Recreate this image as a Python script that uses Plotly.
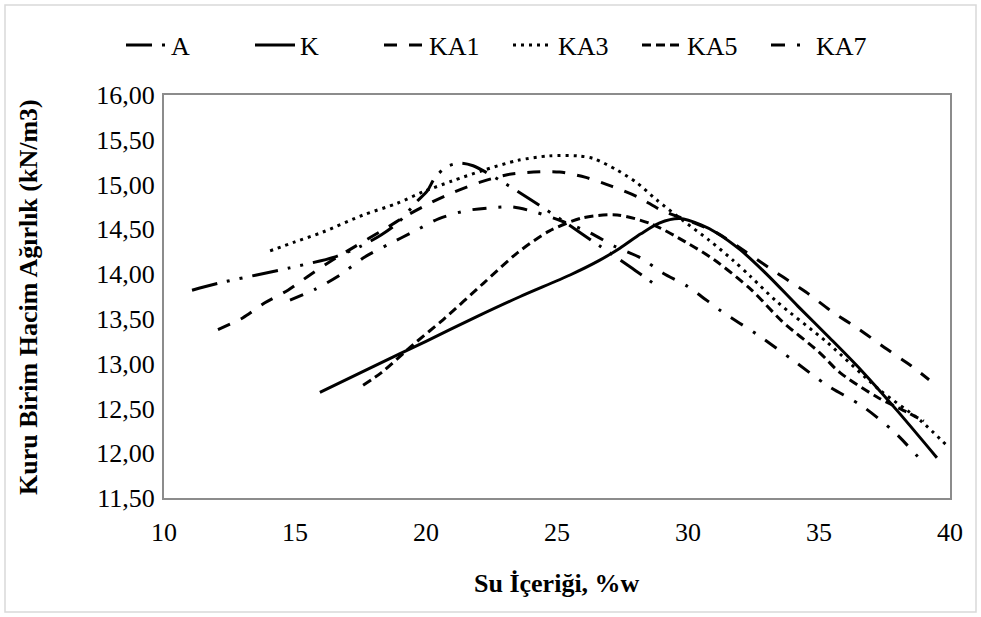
import plotly.graph_objects as go

# ---- data ----
A_x = [11.07, 12.1, 14.8, 16.5, 17.5, 18.3, 18.95, 19.65, 20.05, 20.35, 20.8, 21.3, 21.8, 22.8, 24.0, 25.2, 26.6, 27.8, 28.85]
A_y = [13.82, 13.90, 14.07, 14.19, 14.31, 14.44, 14.58, 14.81, 14.93, 15.08, 15.20, 15.24, 15.21, 15.05, 14.83, 14.60, 14.32, 14.08, 13.86]

K_x = [15.95, 18.0, 20.0, 21.9, 23.6, 25.5, 26.6, 27.4, 28.2, 28.9, 29.7, 30.5, 31.1, 32.0, 33.0, 34.2, 35.4, 36.6, 38.0, 39.5]
K_y = [12.68, 12.97, 13.25, 13.52, 13.75, 13.99, 14.15, 14.29, 14.45, 14.57, 14.62, 14.55, 14.46, 14.27, 14.00, 13.64, 13.29, 12.93, 12.47, 11.95]

KA1_x = [12.06, 13.0, 13.85, 14.73, 15.57, 16.45, 17.3, 18.4, 19.3, 20.2, 21.1, 22.1, 23.1, 24.1, 25.1, 26.1, 27.1, 28.1, 29.0, 30.0, 31.1, 32.2, 33.4, 34.5, 35.5, 36.5, 37.6, 38.5, 39.2]
KA1_y = [13.38, 13.51, 13.68, 13.82, 13.99, 14.16, 14.31, 14.50, 14.66, 14.80, 14.92, 15.03, 15.11, 15.14, 15.14, 15.08, 14.98, 14.86, 14.71, 14.60, 14.46, 14.25, 14.01, 13.80, 13.58, 13.39, 13.16, 12.98, 12.82]

KA3_x = [14.05, 15.0, 16.07, 17.6, 18.9, 19.9, 21.0, 22.2, 23.5, 24.7, 25.8, 26.4, 27.3, 28.05, 28.8, 29.8, 30.8, 31.7, 32.4, 33.4, 35.3, 37.3, 38.85, 39.9]
KA3_y = [14.26, 14.36, 14.47, 14.66, 14.79, 14.92, 15.04, 15.16, 15.27, 15.32, 15.32, 15.29, 15.16, 15.02, 14.83, 14.60, 14.38, 14.16, 13.97, 13.69, 13.24, 12.71, 12.37, 12.08]

KA5_x = [17.6, 18.3, 19.5, 20.65, 22.2, 23.5, 24.7, 26.0, 27.3, 28.6, 29.9, 31.0, 32.4, 33.6, 35.0, 35.8, 37.2, 38.35, 39.0]
KA5_y = [12.76, 12.90, 13.21, 13.49, 13.90, 14.24, 14.48, 14.63, 14.66, 14.56, 14.36, 14.16, 13.83, 13.47, 13.13, 12.90, 12.63, 12.46, 12.36]

KA7_x = [14.81, 15.76, 16.72, 17.6, 18.55, 19.5, 20.5, 21.56, 22.5, 23.3, 24.2, 25.2, 26.2, 27.2, 28.2, 29.05, 30.0, 31.3, 32.67, 34.0, 35.3, 36.68, 37.9, 39.05]
KA7_y = [13.71, 13.83, 13.99, 14.18, 14.33, 14.47, 14.62, 14.71, 14.74, 14.75, 14.69, 14.59, 14.47, 14.31, 14.18, 14.01, 13.86, 13.58, 13.32, 13.04, 12.76, 12.52, 12.23, 11.87]

names = ["A", "K", "KA1", "KA3", "KA5", "KA7"]
xs = [A_x, K_x, KA1_x, KA3_x, KA5_x, KA7_x]
ys = [A_y, K_y, KA1_y, KA3_y, KA5_y, KA7_y]
dashes = [
    "26px,10px,3px,10px,3px,10px",
    "solid",
    "13px,12px",
    "3px,5px",
    "9px,5px",
    "14px,12px,3px,12px",
]

x_ticks = [10, 15, 20, 25, 30, 35, 40]
y_ticks = [11.5, 12.0, 12.5, 13.0, 13.5, 14.0, 14.5, 15.0, 15.5, 16.0]

FONT = "Liberation Serif, Times New Roman, serif"
FS = 26

fig = go.Figure()
for n, x, y, d in zip(names, xs, ys, dashes):
    fig.add_trace(go.Scatter(
        x=x, y=y, mode="lines", name=n,
        line=dict(color="black", width=3, dash=d, shape="spline", smoothing=0.8),
    ))

L, R, T, B = 164, 31, 95, 119
W, H = 981, 617
pw, ph = W - L - R, H - T - B

def px_x(px):
    return (px - L) / pw

def px_y(py):
    return (H - B - py) / ph

fig.update_layout(
    width=W, height=H,
    margin=dict(l=L, r=R, t=T, b=B, autoexpand=False),
    paper_bgcolor="white", plot_bgcolor="white",
    font=dict(family=FONT, size=FS, color="black"),
    separators=",.",
    showlegend=True,
    legend=dict(
        orientation="h", x=px_x(508), xanchor="center",
        y=px_y(45), yanchor="middle",
        font=dict(family=FONT, size=FS, color="black"),
        bgcolor="rgba(0,0,0,0)", itemwidth=40, tracegroupgap=0,
        entrywidth=74, entrywidthmode="pixels",
    ),
    xaxis=dict(
        range=[10, 40], tickvals=x_ticks, ticktext=[str(v) for v in x_ticks],
        showgrid=False, zeroline=False, showline=True, mirror=True,
        linecolor="#8c8c8c", linewidth=2, ticks="", ticklabelstandoff=10,
        tickfont=dict(family=FONT, size=FS),
    ),
    yaxis=dict(
        range=[11.5, 16.0], tickvals=y_ticks, tickformat=".2f",
        showgrid=False, zeroline=False, showline=True, mirror=True,
        linecolor="#8c8c8c", linewidth=2, ticks="", ticklabelstandoff=2,
        tickfont=dict(family=FONT, size=FS),
    ),
    annotations=[
        dict(text="<b>Su İçeriği, %w</b>", xref="paper", yref="paper",
             x=px_x(557), y=px_y(583), xanchor="center", yanchor="middle",
             showarrow=False, font=dict(family=FONT, size=FS)),
        dict(text="<b>Kuru Birim Hacim Ağırlık (kN/m3)</b>", xref="paper", yref="paper",
             x=px_x(28), y=px_y(297), xanchor="center", yanchor="middle",
             textangle=-90, showarrow=False, font=dict(family=FONT, size=FS)),
    ],
    shapes=[
        dict(type="rect", xref="paper", yref="paper",
             x0=px_x(5), x1=px_x(976), y0=px_y(612), y1=px_y(5),
             line=dict(color="#d9d9d9", width=1.5), layer="below"),
    ],
)

fig.write_html("out.html")
